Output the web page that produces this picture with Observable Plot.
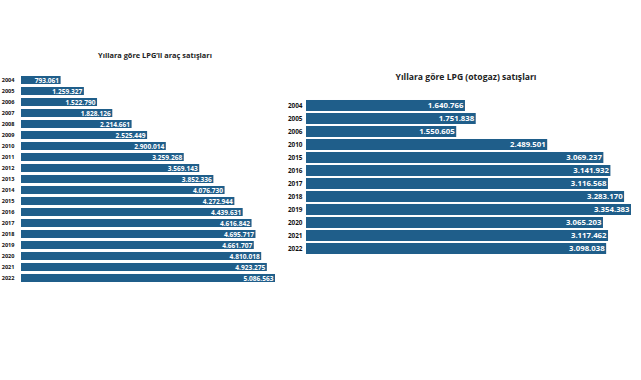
<!DOCTYPE html>
<html>
<head>
<meta charset="utf-8">
<script src="https://cdn.jsdelivr.net/npm/d3@7"></script>
<script src="https://cdn.jsdelivr.net/npm/@observablehq/plot@0.6"></script>
<style>
  html, body { margin: 0; padding: 0; background: #fff; }
  #wrap { position: relative; width: 641px; height: 380px; overflow: hidden; background: #fff; font-family: "Open Sans", sans-serif; }
  #wrap svg { position: absolute; left: 0; top: 0; background: transparent; }
  .title { position: absolute; font-weight: 700; color: #222; white-space: nowrap; transform: translate(-50%, -50%); }
</style>
</head>
<body>
<div id="wrap">
  <div class="title" style="left:155px; top:55px; font-size:7.4px;">Yıllara göre LPG’li araç satışları</div>
  <div class="title" style="left:466px; top:77px; font-size:8.6px;">Yıllara göre LPG (otogaz) satışları</div>
</div>
<script>
// Left panel: LPG'li araç satışları
const yearsCars = ["2004","2005","2006","2007","2008","2009","2010","2011","2012","2013","2014","2015","2016","2017","2018","2019","2020","2021","2022"];
const valuesCars = [793061,1259327,1522790,1828126,2214661,2525449,2900014,3259268,3569143,3852336,4076730,4272944,4439631,4616842,4695717,4661707,4810018,4923275,5086563];

// Right panel: LPG (otogaz) satışları
const yearsAutogas = ["2004","2005","2006","2010","2015","2016","2017","2018","2019","2020","2021","2022"];
const valuesAutogas = [1640766,1751838,1550605,2489501,3069237,3141932,3116568,3283170,3354383,3065203,3117462,3098038];

const fmt = d3.formatLocale({decimal: ",", thousands: ".", grouping: [3], currency: ["", ""]}).format(",");
const barColor = "#1f5e8a";

const cars = yearsCars.map((y, i) => ({year: y, value: valuesCars[i]}));
const gas = yearsAutogas.map((y, i) => ({year: y, value: valuesAutogas[i]}));

const left = Plot.plot({
  width: 290,
  height: 287.8,
  marginLeft: 21,
  marginRight: 15,
  marginTop: 69.3,
  marginBottom: 0,
  style: {background: "transparent", fontFamily: "Open Sans, sans-serif"},
  x: {domain: [0, d3.max(valuesCars)], axis: null},
  y: {domain: yearsCars, paddingInner: 0.3, paddingOuter: 0.15, axis: null},
  marks: [
    Plot.barX(cars, {x: "value", y: "year", fill: barColor}),
    Plot.text(cars, {x: "value", y: "year", text: d => fmt(d.value), textAnchor: "end", dx: -2, fill: "white", fontWeight: "bold", fontSize: 6.6}),
    Plot.text(cars, {x: 0, y: "year", text: "year", textAnchor: "end", dx: -7, fill: "#111", fontWeight: "bold", fontSize: 5.6})
  ]
});

const right = Plot.plot({
  width: 641,
  height: 260.4,
  marginLeft: 306,
  marginRight: 10,
  marginTop: 93.6,
  marginBottom: 0,
  style: {background: "transparent", fontFamily: "Open Sans, sans-serif"},
  x: {domain: [0, d3.max(valuesAutogas)], axis: null},
  y: {domain: yearsAutogas, paddingInner: 0.17, paddingOuter: 0.1, axis: null},
  marks: [
    Plot.barX(gas, {x: "value", y: "year", fill: barColor}),
    Plot.text(gas, {x: "value", y: "year", text: d => fmt(d.value), textAnchor: "end", dx: -2, fill: "white", fontWeight: "bold", fontSize: 7.8}),
    Plot.text(gas, {x: 0, y: "year", text: "year", textAnchor: "end", dx: -4, fill: "#111", fontWeight: "bold", fontSize: 6.4})
  ]
});

const wrap = document.getElementById("wrap");
wrap.appendChild(left);
wrap.appendChild(right);
</script>
</body>
</html>
